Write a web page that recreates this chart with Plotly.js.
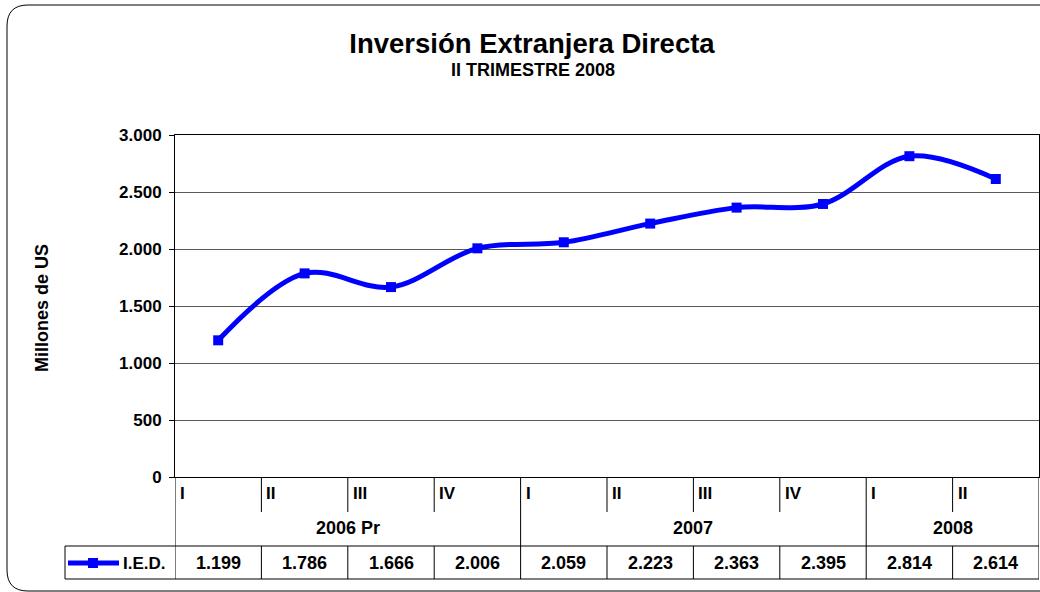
<!DOCTYPE html>
<html>
<head>
<meta charset="utf-8">
<script src="https://cdn.plot.ly/plotly-3.0.1.min.js"></script>
<style>html,body{margin:0;padding:0;background:#fff;}#chart{width:1040px;height:592px;}</style>
</head>
<body>
<div id="chart"></div>
<script>
// ---- data ----
const titleText = 'Inversión Extranjera Directa';
const subtitleText = 'II TRIMESTRE 2008';
const yAxisTitle = 'Millones de US';
const seriesName = 'I.E.D.';
const years = ['2006 Pr', '2007', '2008'];
const quartersPerYear = [4, 4, 2];
const quarterLabels = ['I', 'II', 'III', 'IV', 'I', 'II', 'III', 'IV', 'I', 'II'];
const values = [1199, 1786, 1666, 2006, 2059, 2223, 2363, 2395, 2814, 2614];
const yTickValues = [0, 500, 1000, 1500, 2000, 2500, 3000];

// ---- layout helpers ----
const W = 1040, H = 592;
const M = {l: 175, r: 1, t: 135, b: 115};
const PW = W - M.l - M.r, PH = H - M.t - M.b;
const X = px => (px - M.l) / PW;           // pixel -> paper x
const Y = py => (H - M.b - py) / PH;       // pixel -> paper y
const FONT = 'Liberation Sans, Arial, sans-serif';
const fmt = v => String(v).replace(/\B(?=(\d{3})+(?!\d))/g, '.');

// period category names
const periodYear = [];
years.forEach((y, k) => { for (let j = 0; j < quartersPerYear[k]; j++) periodYear.push(y); });
const periods = quarterLabels.map((q, i) => periodYear[i] + ' ' + q);

// boundaries between years (category index of boundary = i - 0.5)
const yearStarts = [0];
quartersPerYear.forEach((n, k) => yearStarts.push(yearStarts[k] + n));

const shapes = [];
const annotations = [];
const lineStyle = {color: '#000', width: 1};

for (let b = 0; b <= periods.length; b++) {
  const isYear = yearStarts.includes(b);
  if (isYear) {
    shapes.push({type: 'line', xref: 'x', yref: 'paper', x0: b - 0.5, x1: b - 0.5, y0: Y(477), y1: Y(579), line: lineStyle});
  } else {
    shapes.push({type: 'line', xref: 'x', yref: 'paper', x0: b - 0.5, x1: b - 0.5, y0: Y(477), y1: Y(512), line: lineStyle});
    shapes.push({type: 'line', xref: 'x', yref: 'paper', x0: b - 0.5, x1: b - 0.5, y0: Y(546), y1: Y(579), line: lineStyle});
  }
}
// data table horizontal lines + legend cell
shapes.push({type: 'line', xref: 'paper', yref: 'paper', x0: X(65), x1: 1, y0: Y(546), y1: Y(546), line: lineStyle});
shapes.push({type: 'line', xref: 'paper', yref: 'paper', x0: X(65), x1: 1, y0: Y(579), y1: Y(579), line: lineStyle});
shapes.push({type: 'line', xref: 'paper', yref: 'paper', x0: X(65), x1: X(65), y0: Y(546), y1: Y(579), line: lineStyle});
// legend key
shapes.push({type: 'line', xref: 'paper', yref: 'paper', x0: X(68), x1: X(119), y0: Y(563), y1: Y(563), line: {color: '#0000FF', width: 5}});
shapes.push({type: 'rect', xref: 'paper', yref: 'paper', x0: X(88), x1: X(98), y0: Y(558), y1: Y(568), line: {width: 0}, fillcolor: '#0000FF'});
// outer rounded frame
shapes.push({type: 'path', xref: 'paper', yref: 'paper', line: {color: '#000', width: 1},
  path: `M ${X(1080)},${Y(5)} L ${X(28)},${Y(5)} Q ${X(7)},${Y(5)} ${X(7)},${Y(26)} L ${X(7)},${Y(570)} Q ${X(7)},${Y(591)} ${X(28)},${Y(591)} L ${X(1080)},${Y(591)}`});

const bold = (size) => ({family: FONT, size: size, color: '#000', weight: 'bold'});

// quarter labels
quarterLabels.forEach((q, i) => annotations.push({
  xref: 'x', yref: 'paper', x: i - 0.5, y: Y(493), xanchor: 'left', yanchor: 'middle', xshift: 3,
  text: q, showarrow: false, font: bold(17)
}));
// year labels
years.forEach((y, k) => annotations.push({
  xref: 'x', yref: 'paper', x: (yearStarts[k] + yearStarts[k + 1] - 1) / 2, y: Y(528), xanchor: 'center', yanchor: 'middle',
  text: y, showarrow: false, font: bold(18)
}));
// values row
values.forEach((v, i) => annotations.push({
  xref: 'x', yref: 'paper', x: i, y: Y(563), xanchor: 'center', yanchor: 'middle',
  text: fmt(v), showarrow: false, font: bold(18)
}));
// legend text
annotations.push({xref: 'paper', yref: 'paper', x: X(121), y: Y(563), xanchor: 'left', yanchor: 'middle',
  text: seriesName, showarrow: false, font: bold(17)});
// subtitle
annotations.push({xref: 'paper', yref: 'paper', x: X(533), y: Y(70), xanchor: 'center', yanchor: 'middle',
  text: subtitleText, showarrow: false, font: bold(18)});
// y axis title
annotations.push({xref: 'paper', yref: 'paper', x: X(42), y: Y(308), xanchor: 'center', yanchor: 'middle',
  text: yAxisTitle, textangle: -90, showarrow: false, font: bold(18)});

const trace = {
  x: periods, y: values, name: seriesName, type: 'scatter', mode: 'lines+markers',
  line: {color: '#0000FF', width: 5, shape: 'spline', smoothing: 1},
  marker: {symbol: 'square', size: 10, color: '#0000FF'},
  showlegend: false, hoverinfo: 'skip'
};

const layout = {
  width: W, height: H, margin: {l: M.l, r: M.r, t: M.t, b: M.b, pad: 0},
  paper_bgcolor: '#fff', plot_bgcolor: '#fff', separators: ',.',
  font: {family: FONT, color: '#000'},
  title: {text: titleText, x: 532 / W, xanchor: 'center', xref: 'container', y: 1 - 43 / H, yanchor: 'middle', yref: 'container',
    font: bold(27.5)},
  xaxis: {type: 'category', range: [-0.5, periods.length - 0.5], showticklabels: false, ticks: '',
    showgrid: false, showline: true, linecolor: '#000', linewidth: 1, mirror: true, zeroline: false, fixedrange: true},
  yaxis: {range: [0, 3000], tickvals: yTickValues, tickformat: ',d', showgrid: true, gridcolor: '#5a5a5a', gridwidth: 1,
    showline: true, linecolor: '#000', linewidth: 1, mirror: true, ticks: 'outside', ticklen: 5, tickcolor: '#000',
    ticklabelstandoff: 4, tickfont: bold(17), zeroline: false, fixedrange: true},
  shapes: shapes, annotations: annotations, showlegend: false
};

Plotly.newPlot('chart', [trace], layout, {displayModeBar: false, staticPlot: true});
</script>
</body>
</html>
